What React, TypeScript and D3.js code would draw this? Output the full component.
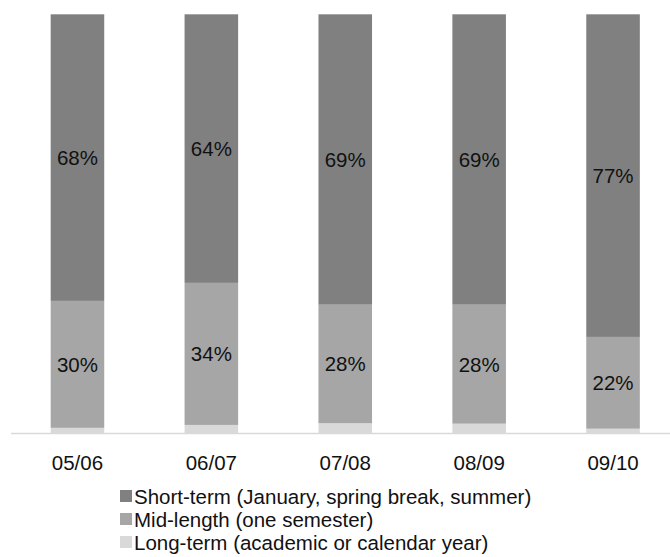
import React from "react";
import * as d3 from "d3";

const categories = ["05/06", "06/07", "07/08", "08/09", "09/10"];
const shortTerm = [68.4, 64.1, 69.3, 69.3, 77.0];
const midLength = [30.3, 33.9, 28.3, 28.4, 21.9];
const longTerm = [1.3, 2.0, 2.4, 2.3, 1.1];
const seriesNames = [
  "Short-term (January, spring break, summer)",
  "Mid-length (one semester)",
  "Long-term (academic or calendar year)",
];
const seriesKeys = ["long", "mid", "short"];

const W = 670;
const H = 557;
const FONT = "'Liberation Sans', Arial, Helvetica, sans-serif";

const colors: Record<string, string> = {
  short: "#808080",
  mid: "#a6a6a6",
  long: "#d9d9d9",
};

export default function App() {
  const rows = categories.map((c, i) => ({
    cat: c,
    long: longTerm[i],
    mid: midLength[i],
    short: shortTerm[i],
  }));
  const stack = d3.stack<any>().keys(seriesKeys)(rows);

  const x = d3
    .scaleBand<string>()
    .domain(categories)
    .range([10.5, 680])
    .paddingInner(0.6)
    .paddingOuter(0.3);
  const y = d3.scaleLinear().domain([0, 100]).range([433.3, 14.3]);

  const legendItems = [
    { key: "short", label: seriesNames[0] },
    { key: "mid", label: seriesNames[1] },
    { key: "long", label: seriesNames[2] },
  ];

  return (
    <svg
      width={W}
      height={H}
      style={{ position: "absolute", left: 0, top: 0, background: "#fff" }}
      fontFamily={FONT}
    >
      <rect x={0} y={0} width={W} height={H} fill="#fff" />
      {stack.map((layer) => (
        <g key={layer.key}>
          {layer.map((d, i) => {
            const y0 = y(d[0]);
            const y1 = y(d[1]);
            return (
              <rect
                key={i}
                x={x(categories[i])!}
                y={y1}
                width={x.bandwidth()}
                height={y0 - y1}
                fill={colors[layer.key]}
              />
            );
          })}
        </g>
      ))}
      {stack
        .filter((l) => l.key !== "long")
        .map((layer) => (
          <g key={"lbl" + layer.key}>
            {layer.map((d, i) => (
              <text
                key={i}
                x={x(categories[i])! + x.bandwidth() / 2}
                y={(y(d[0]) + y(d[1])) / 2}
                textAnchor="middle"
                dominantBaseline="central"
                fontSize={20.5}
                fill="#111"
              >
                {Math.round(d[1] - d[0])}%
              </text>
            ))}
          </g>
        ))}
      <line x1={11} x2={670} y1={433.5} y2={433.5} stroke="#d9d9d9" strokeWidth={1.5} />
      {categories.map((c) => (
        <text
          key={c}
          x={x(c)! + x.bandwidth() / 2}
          y={462}
          textAnchor="middle"
          dominantBaseline="central"
          fontSize={20.5}
          fill="#111"
        >
          {c}
        </text>
      ))}
      {legendItems.map((it, i) => (
        <g key={it.key} transform={`translate(120, ${496 + i * 23})`}>
          <rect x={0} y={-6} width={12} height={12} fill={colors[it.key]} />
          <text x={14} y={0} dominantBaseline="central" fontSize={20.5} fill="#111">
            {it.label}
          </text>
        </g>
      ))}
    </svg>
  );
}
